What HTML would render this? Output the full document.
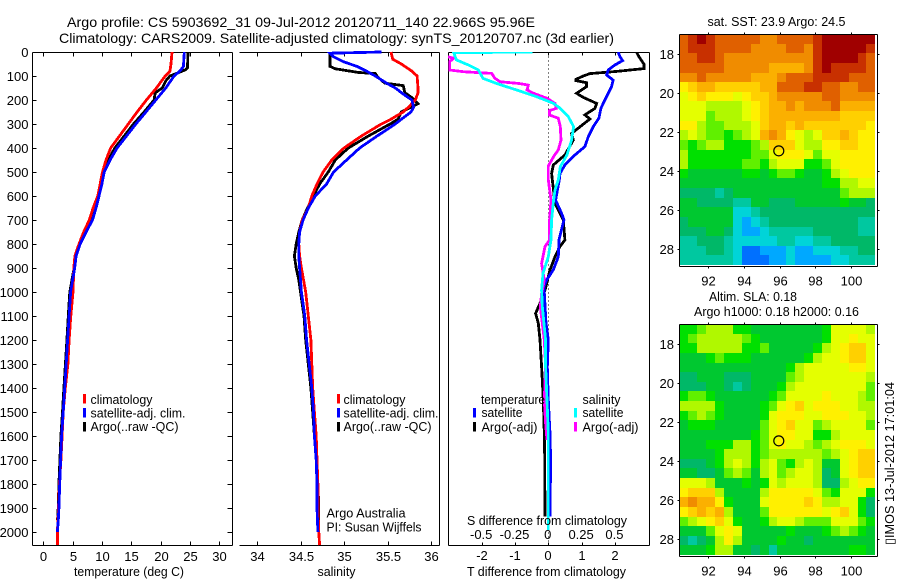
<!DOCTYPE html>
<html>
<head>
<meta charset="utf-8">
<title>Argo profile</title>
<style>
html,body{margin:0;padding:0;background:#fff;}
svg{display:block;}
text{font-family:"Liberation Sans",sans-serif;font-size:13px;fill:#000;}
.title{font-size:14px;}
.m{text-anchor:middle;}
.e{text-anchor:end;}
.ln{fill:none;stroke-width:2.8;shape-rendering:crispEdges;stroke-linejoin:miter;}
.ax{stroke:#000;stroke-width:1;shape-rendering:crispEdges;fill:none;}
</style>
</head>
<body>
<svg id="chart" xmlns="http://www.w3.org/2000/svg" width="900" height="580" viewBox="0 0 900 580">
<defs><clipPath id="diffClip"><rect x="448" y="52" width="201.5" height="494"/></clipPath></defs>
<rect x="0" y="0" width="900" height="580" fill="#fff"/>
<text class="title" x="67" y="27" textLength="468" lengthAdjust="spacingAndGlyphs">Argo profile: CS 5903692_31 09-Jul-2012 20120711_140 22.966S 95.96E</text>
<text class="title" x="59" y="43" textLength="555" lengthAdjust="spacingAndGlyphs">Climatology: CARS2009. Satellite-adjusted climatology: synTS_20120707.nc (3d earlier)</text>
<g id="plots"></g>
<g>
<rect x="83" y="394" width="3" height="9.5" fill="#f00"/>
<rect x="83" y="408" width="3" height="9.5" fill="#00f"/>
<rect x="83" y="422" width="3" height="9.5" fill="#000"/>
<text x="90.5" y="404" textLength="62" lengthAdjust="spacingAndGlyphs">climatology</text>
<text x="90.5" y="417.5" textLength="95" lengthAdjust="spacingAndGlyphs">satellite-adj. clim.</text>
<text x="90.5" y="431" textLength="88" lengthAdjust="spacingAndGlyphs">Argo(..raw -QC)</text>
</g>
<g>
<rect x="337" y="394" width="3" height="9.5" fill="#f00"/>
<rect x="337" y="408" width="3" height="9.5" fill="#00f"/>
<rect x="337" y="422" width="3" height="9.5" fill="#000"/>
<text x="343.5" y="404" textLength="62" lengthAdjust="spacingAndGlyphs">climatology</text>
<text x="343.5" y="417.5" textLength="95" lengthAdjust="spacingAndGlyphs">satellite-adj. clim.</text>
<text x="343.5" y="431" textLength="88" lengthAdjust="spacingAndGlyphs">Argo(..raw -QC)</text>
</g>
<text x="326.5" y="517.5" textLength="79" lengthAdjust="spacingAndGlyphs">Argo Australia</text>
<text x="326.5" y="531.5" textLength="95" lengthAdjust="spacingAndGlyphs">PI: Susan Wijffels</text>
<g>
<text x="481" y="404" textLength="64" lengthAdjust="spacingAndGlyphs">temperature</text>
<rect x="473" y="408" width="3" height="9.5" fill="#00f"/>
<rect x="473" y="422" width="3" height="9.5" fill="#000"/>
<text x="481.5" y="417" textLength="41" lengthAdjust="spacingAndGlyphs">satellite</text>
<text x="481.5" y="431.5" textLength="56" lengthAdjust="spacingAndGlyphs">Argo(-adj)</text>
<text x="582.5" y="404" textLength="38" lengthAdjust="spacingAndGlyphs">salinity</text>
<rect x="574" y="408" width="3" height="9.5" fill="#0ff"/>
<rect x="574" y="422" width="3" height="9.5" fill="#f0f"/>
<text x="582.5" y="417" textLength="41" lengthAdjust="spacingAndGlyphs">satellite</text>
<text x="582.5" y="431.5" textLength="56" lengthAdjust="spacingAndGlyphs">Argo(-adj)</text>
</g>
<text x="74" y="576" textLength="110" lengthAdjust="spacingAndGlyphs">temperature (deg C)</text>
<text x="317.5" y="576" textLength="38" lengthAdjust="spacingAndGlyphs">salinity</text>
<text x="467" y="576" textLength="159" lengthAdjust="spacingAndGlyphs">T difference from climatology</text>
<text x="467" y="525" textLength="160" lengthAdjust="spacingAndGlyphs">S difference from climatology</text>
<text x="707.5" y="26" textLength="138" lengthAdjust="spacingAndGlyphs">sat. SST: 23.9  Argo: 24.5</text>
<text x="709" y="301" textLength="88" lengthAdjust="spacingAndGlyphs">Altim. SLA: 0.18</text>
<text x="694" y="316" textLength="165" lengthAdjust="spacingAndGlyphs">Argo h1000: 0.18 h2000: 0.16</text>
<text transform="translate(894,545) rotate(-90)" textLength="163" lengthAdjust="spacingAndGlyphs">▯IMOS 13-Jul-2012 17:01:04</text>
</svg>
<script>
// ---- Profile data (depth in dbar) ----
const tempTicks = [0,5,10,15,20,25,30];
const salTicks = [34,34.5,35,35.5,36];
const salTickLabels = ["34","34.5","35","35.5","36"];
const depthTicks = [0,100,200,300,400,500,600,700,800,900,1000,1100,1200,1300,1400,1500,1600,1700,1800,1900,2000];
const tDiffTicks = [-2,-1,0,1,2];
const sDiffTicks = [-0.5,-0.25,0,0.25,0.5];
const sDiffTickLabels = ["-0.5","-0.25","0","0.25","0.5"];
const lonTicks = [92,94,96,98,100];
const latTicks = [18,20,22,24,26,28];

const tClimDepth = [0,50,80,100,150,200,250,300,350,400,450,500,600,650,700,750,800,850,900,1000,1100,1200,1300,1400,1500,1600,1700,1800,1900,2000,2055];
const tClimValues = [21.96,21.8,21.6,20.8,19.3,17.6,16,14.5,13,11.5,10.7,10.1,9.3,8.5,7.85,6.9,6.1,5.4,5.2,5.06,4.7,4.4,4.2,3.75,3.4,3.2,3,2.75,2.6,2.4,2.4];
const tSatDepth = [0,60,80,100,150,200,250,300,350,400,450,500,550,600,650,700,750,800,850,900,950,1000,1100,1200,1300,1400,1500,1600,1700,1800,1900,1950,2000];
const tSatValues = [24.06,23.9,23.3,22.3,20.9,19.2,17.5,15.8,14.2,12.6,11.4,10.4,10,9.5,9,8.4,7.3,6.3,5.6,5.35,5,4.66,4.4,4.15,3.9,3.65,3.4,3.13,2.96,2.8,2.67,2.56,2.4];
const tArgoDepth = [0,65,75,100,120,150,170,200,250,300,350,400,450,500,600,700,750,800,850,900,1000,1100,1200,1300,1400,1500,1600,1700,1800,1900,1950];
const tArgoValues = [24.7,24.6,24.2,21.6,20.9,20.3,19.1,18.9,17.2,15.4,13.8,12.2,11.1,10.2,9.4,8.25,7.3,6.3,5.6,5.25,4.53,4.27,4.02,3.77,3.52,3.27,3.0,2.83,2.67,2.54,2.43];

const sClimDepth = [0,30,50,80,100,150,170,200,230,250,282,300,350,400,450,500,550,600,650,700,750,800,850,900,1000,1100,1200,1300,1400,1500,1600,1700,1800,1900,2000,2055];
const sClimValues = [35.54,35.56,35.66,35.78,35.84,35.85,35.85,35.82,35.74,35.68,35.53,35.43,35.2,35,34.86,34.76,34.69,34.63,34.59,34.52,34.49,34.48,34.49,34.51,34.56,34.59,34.62,34.63,34.64,34.66,34.68,34.69,34.7,34.7,34.71,34.72];
const sSatDepth = [0,5,20,40,60,80,100,130,150,175,200,230,250,280,300,350,400,450,500,550,600,650,700,750,800,850,900,1000,1100,1200,1300,1400,1500,1600,1700,1800,1900,2000];
const sSatValues = [35.43,34.84,34.88,34.99,35.15,35.26,35.36,35.49,35.59,35.68,35.78,35.8,35.77,35.66,35.59,35.38,35.18,35.03,34.88,34.8,34.67,34.59,34.53,34.49,34.48,34.48,34.49,34.51,34.55,34.57,34.6,34.63,34.65,34.66,34.68,34.69,34.69,34.7];
const sArgoDepth = [0,60,70,75,85,90,105,130,140,170,190,215,235,250,280,300,350,400,450,500,550,600,650,700,750,800,850,900,950,1000,1100,1200,1300,1400,1500,1600,1700,1800,1900,1950];
const sArgoValues = [34.84,34.84,34.9,34.99,35.16,35.36,35.39,35.47,35.68,35.7,35.78,35.85,35.74,35.66,35.62,35.53,35.28,35.05,34.9,34.82,34.72,34.65,34.58,34.52,34.48,34.45,34.43,34.45,34.48,34.5,34.54,34.56,34.59,34.62,34.64,34.66,34.68,34.7,34.71,34.71];

const dtArgoDepth = [0,19,50,69,81,90,100,114,119,128,144,172,189,214,235,262,279,339,367,429,471,506,631,700,783,811,853,908,992,1047,1089,1130,1200,1311,1450,1547,1630,1936];
const dtArgoValues = [2.65,2.72,2.87,2.87,2.05,1.25,1.05,.83,.83,1.15,1.15,.85,1.05,1.45,1.4,1.1,1.25,.7,.75,.5,.15,.1,.2,.45,.5,.35,.2,.05,-.1,-.25,-.38,-.3,-.25,-.2,-.15,-.13,-.11,-.1];
const dtSatDepth = [0,19,36,54,75,96,117,144,172,214,235,276,311,353,394,429,471,506,533,617,672,700,783,853,908,950,978,1130,1200,1311,1450,1589,1700,1936];
const dtSatValues = [2.1,2.15,2.23,2.0,1.8,1.75,1.95,1.9,1.8,1.65,1.58,1.52,1.35,1.2,1.1,.8,.5,.35,.33,.22,.4,.47,.32,.3,.15,-.05,-.13,-.07,0,-.03,0,.05,.07,.05];
const dsArgoDepth = [0,19,26,40,75,82,89,110,124,131,138,158,172,193,214,235,244,263,276,311,367,408,436,475,533,617,700,783,811,881,950,1006,1061,1200,1311,1450,1547,1616];
const dsArgoValues = [-.8,-.76,-.71,-.74,-.74,-.64,-.425,-.4,-.36,-.225,-.15,-.16,-.11,-.01,.05,.06,.01,.01,.075,.09,.095,.075,.04,0,0,.02,.01,.01,-.025,-.05,-.03,-.05,-.06,-.03,-.02,-.03,-.02,-.01];
const dsSatDepth = [0,3,33,54,75,110,131,158,186,214,235,269,311,367,429,478,533,575,617,700,783,853,922,992,1061,1200,1311,1450,1589,1936,1991];
const dsSatValues = [-.12,-.71,-.69,-.6,-.525,-.49,-.39,-.24,-.09,.04,.09,.15,.19,.175,.14,.09,.075,.05,.04,.025,.02,0,-.04,-.05,-.045,-.02,-.02,-.01,0,0,0];

// ---- Map data: colour-scale levels, rows north to south (0.5 degree cells) ----
const mapLevelColors = ["#0070ff","#00a8ff","#00d4d8","#00c8a0","#00b868","#00c830","#00e000","#60f000","#b0f800","#e4ff00","#fff000","#ffd000","#fbb000","#f08c00","#e06000","#c83000","#a00000"];
const sstLevels = [
[14,15,16,15,14,14,14,14,14,13,13,14,14,14,14,15,16,16,16,16,16,16],
[14,15,15,15,14,14,14,14,13,13,13,13,14,14,13,15,16,16,16,16,16,15],
[14,14,15,15,14,13,13,13,13,13,13,13,13,13,13,15,16,16,16,16,15,14],
[14,14,14,14,14,13,13,13,13,13,12,12,12,12,13,15,16,15,15,15,15,14],
[13,13,14,13,13,13,13,13,12,12,12,13,14,14,14,15,15,15,15,14,14,14],
[10,11,12,12,11,11,11,11,11,12,12,14,14,14,15,15,14,14,13,13,14,14],
[9,10,11,10,10,10,9,10,11,11,12,13,13,13,13,13,14,14,13,13,13,13],
[9,9,9,8,8,8,8,9,10,11,12,12,13,12,13,13,13,14,12,12,12,12],
[9,9,9,7,8,8,8,9,10,11,12,12,12,12,12,12,12,12,11,11,11,11],
[10,10,8,7,7,8,8,8,9,11,12,12,11,12,11,11,11,11,11,11,11,10],
[8,9,8,7,7,6,7,8,9,12,13,12,10,9,8,9,11,11,12,11,10,10],
[7,6,7,8,8,6,6,6,7,8,11,11,11,9,8,8,10,10,11,11,10,10],
[8,6,6,6,6,6,6,6,7,7,9,10,10,10,9,7,9,9,10,10,10,10],
[8,6,6,6,6,6,6,7,7,6,8,9,9,9,6,6,7,9,10,10,10,10],
[6,5,5,5,5,5,5,6,6,5,6,7,7,6,5,5,6,8,9,10,10,10],
[5,5,5,5,5,5,5,5,5,5,5,5,5,5,5,5,6,6,8,8,9,9],
[4,4,4,4,3,4,5,5,5,5,5,5,5,5,5,5,5,5,7,8,8,8],
[5,5,4,4,4,4,3,3,5,5,4,4,4,5,5,5,5,5,6,5,5,4],
[5,5,5,5,5,5,2,2,3,4,4,4,4,4,4,4,4,4,4,4,4,4],
[4,5,5,5,5,5,2,1,2,3,4,4,4,4,4,4,4,4,4,4,3,3],
[4,4,4,5,5,4,2,1,1,2,3,3,3,3,3,4,4,4,4,4,3,3],
[3,3,4,4,4,3,2,2,2,2,2,3,3,2,2,3,3,4,4,4,4,4],
[3,3,3,4,4,3,2,0,0,1,1,1,2,1,1,2,2,2,3,3,4,4],
[3,3,3,3,3,3,2,0,0,0,1,1,2,1,1,1,1,2,2,3,3,3]
];
const slaLevels = [
[6,6,7,8,8,8,6,6,5,5,5,5,5,5,5,5,6,9,9,9,9,8],
[6,7,8,8,8,8,8,7,6,5,5,5,5,5,5,5,6,9,9,10,9,9],
[6,6,8,8,8,8,8,6,6,7,5,5,5,5,5,6,8,9,10,11,11,9],
[5,5,5,6,7,6,6,6,5,5,5,5,5,5,6,8,9,9,10,11,11,9],
[5,5,5,5,5,5,5,5,5,5,5,5,6,8,9,9,9,9,9,10,10,9],
[4,4,5,5,5,4,4,4,5,5,5,5,7,8,9,9,9,9,9,9,9,8],
[4,4,4,5,5,4,3,4,5,5,5,6,8,9,9,9,9,9,9,9,9,7],
[6,7,7,6,5,5,5,5,5,5,6,7,9,9,9,9,10,9,9,9,8,7],
[8,8,8,8,6,5,5,5,5,6,7,9,10,11,9,10,10,10,9,9,8,8],
[6,7,8,7,6,5,5,5,5,6,9,10,10,10,9,9,10,10,10,9,9,8],
[5,6,6,6,5,5,5,5,5,7,9,10,11,9,9,7,8,9,9,9,9,7],
[5,5,5,5,5,5,5,5,6,7,9,10,10,9,9,6,6,8,9,9,9,9],
[5,5,5,6,6,6,8,8,6,7,9,10,9,9,8,7,8,9,10,10,10,9],
[5,5,5,5,6,8,8,8,6,7,8,8,8,8,8,8,7,8,9,10,11,11],
[4,4,4,5,6,8,9,8,6,8,9,7,6,8,9,8,5,5,9,10,11,11],
[5,5,4,4,5,7,8,7,5,8,9,7,8,9,9,8,4,5,9,10,11,11],
[9,9,9,8,5,5,5,6,5,6,9,8,9,9,9,8,4,4,8,9,10,10],
[10,11,11,11,8,5,5,5,5,8,10,10,10,10,10,9,7,6,9,9,9,6],
[12,13,12,12,10,6,5,5,5,9,10,10,10,10,11,10,8,8,9,9,6,4],
[10,11,12,11,12,8,5,5,5,7,10,10,10,10,10,10,9,10,11,9,6,4],
[7,8,9,10,11,9,6,5,5,6,8,9,9,8,7,7,7,9,9,9,7,6],
[5,5,5,7,9,10,9,5,5,5,5,5,6,5,5,5,6,7,8,7,6,5],
[4,3,4,5,8,10,8,5,5,5,5,6,5,5,4,5,5,5,5,5,5,5],
[5,5,5,6,8,8,5,5,4,5,3,5,5,5,5,5,5,5,5,6,6,5]
];
const profileLon = [95.96];
const profileLat = [22.966];

// ---- Axis functions ----
const SVGNS = "http://www.w3.org/2000/svg";
const root = document.getElementById("plots");
const yDepth = d => 52 + d * 0.24;
const xTemp = t => 43.3 + t * 5.86;
const xSal = s => 257 + (s - 34) * 87;
const xDT = t => 548.3 + t * 33.3;
const xDS = s => 548.3 + s * 133.2;
const xLon = lon => 708.3 + (lon - 92) * 17.8;
const yLat1 = lat => 54.3 + (lat - 18) * 19.44;
const yLat2 = lat => 344.3 + (lat - 18) * 19.44;

function mk(tag, attrs, parent, txt) {
  const el = document.createElementNS(SVGNS, tag);
  for (const k in attrs) el.setAttribute(k, attrs[k]);
  if (txt !== undefined) el.textContent = txt;
  (parent || root).appendChild(el);
  return el;
}
function axisLine(x1, y1, x2, y2, parent, name) {
  const el = mk("line", {x1: x1, y1: y1, x2: x2, y2: y2, class: "ax"}, parent);
  
  
}
function tickLabel(x, y, str, cls, name) {
  const el = mk("text", {x: x, y: y, class: cls}, root, str);
  
  
}
function profileLine(xf, depths, values, color, name, parent) {
  const pts = depths.map((d, i) => xf(values[i]).toFixed(1) + "," + yDepth(d).toFixed(1)).join(" ");
  const el = mk("polyline", {points: pts, class: "ln", stroke: color}, parent);
  
  
}

// ---- Panel frames ----
const L1 = 32.5, R1 = 232.5, L2 = 239.5, R2 = 439.5, L3 = 448.5, R3 = 649.5, T = 52.5, B = 545.5;
axisLine(L1, T, R1, T, root, "temperature-panel-top");
axisLine(L1, B, R1, B, root, "temperature-panel-bottom");
axisLine(L1, T, L1, B, root, "temperature-panel-left");
axisLine(R1, T, R1, B, root, "temperature-panel-right");
axisLine(L2, T, R2, T, root, "salinity-panel-top");
axisLine(L2, B, R2, B, root, "salinity-panel-bottom");
axisLine(R2, T, R2, B, root, "salinity-panel-right");
axisLine(L3, T, R3, T, root, "difference-panel-top");
axisLine(L3, B, R3, B, root, "difference-panel-bottom");
axisLine(L3, T, L3, B, root, "difference-panel-left");
axisLine(R3, T, R3, B, root, "difference-panel-right");

depthTicks.forEach(d => {
  const y = Math.round(yDepth(d)) + 0.5;
  axisLine(L1, y, L1 + 4, y, root, "depth-tick-left");
  axisLine(R1 - 5, y, R1, y, root, "depth-tick-right");
  tickLabel(28.5, y + 4.5, String(d), "e", "depth-tick-label");
});
tempTicks.forEach(t => {
  const x = Math.round(xTemp(t)) + 0.5;
  axisLine(x, T, x, T + 4, root, "temperature-tick-top");
  axisLine(x, B - 4, x, B, root, "temperature-tick-bottom");
  tickLabel(x, 561, String(t), "m", "temperature-tick-label");
});
salTicks.forEach((s, i) => {
  const x = Math.round(xSal(s)) + 0.5;
  axisLine(x, T, x, T + 4, root, "salinity-tick-top");
  axisLine(x, B - 4, x, B, root, "salinity-tick-bottom");
  tickLabel(x, 561, salTickLabels[i], "m", "salinity-tick-label");
});
tDiffTicks.forEach(t => {
  const x = Math.round(xDT(t)) + 0.5;
  axisLine(x, T, x, T + 3, root, "t-difference-tick-top");
  axisLine(x, B - 3, x, B, root, "t-difference-tick-bottom");
  tickLabel(x - 0.5, 560, String(t), "m", "t-difference-tick-label");
});
sDiffTicks.forEach((s, i) => {
  const x = xDS(s);
  tickLabel(x - 0.5, 539, sDiffTickLabels[i], "m", "s-difference-tick-label");
});

// ---- Profile series ----
profileLine(xTemp, tArgoDepth, tArgoValues, "#000", "temperature-argo-line");
profileLine(xTemp, tClimDepth, tClimValues, "#f00", "temperature-climatology-line");
profileLine(xTemp, tSatDepth, tSatValues, "#00f", "temperature-satellite-line");
profileLine(xSal, sArgoDepth, sArgoValues, "#000", "salinity-argo-line");
profileLine(xSal, sClimDepth, sClimValues, "#f00", "salinity-climatology-line");
profileLine(xSal, sSatDepth, sSatValues, "#00f", "salinity-satellite-line");

// ---- Difference panel ----
const diffGroup = mk("g", {"clip-path": "url(#diffClip)"});


const zeroLine = mk("line", {x1: xDT(0), y1: T, x2: xDT(0), y2: B, stroke: "#000", "stroke-width": 1, "stroke-dasharray": "1 3", "shape-rendering": "crispEdges"}, diffGroup);


profileLine(xDT, dtArgoDepth, dtArgoValues, "#000", "t-difference-argo-line", diffGroup);
profileLine(xDT, dtSatDepth, dtSatValues, "#00f", "t-difference-satellite-line", diffGroup);
profileLine(xDS, dsArgoDepth, dsArgoValues, "#f0f", "s-difference-argo-line", diffGroup);
profileLine(xDS, dsSatDepth, dsSatValues, "#0ff", "s-difference-satellite-line", diffGroup);

// ---- Maps ----
function drawMap(levels, top, yLat, name) {
  const g = mk("g", {"shape-rendering": "crispEdges"});
  
  
  const left = 679.5, cw = 195.8 / levels[0].length, ch = 231 / levels.length;
  levels.forEach((row, r) => row.forEach((v, c) => {
    const x0 = Math.round(left + c * cw), x1 = Math.round(left + (c + 1) * cw);
    const y0 = Math.round(top + r * ch), y1 = Math.round(top + (r + 1) * ch);
    const cell = mk("rect", {x: x0, y: y0, width: x1 - x0, height: y1 - y0, fill: mapLevelColors[v]}, g);
    
    
  }));
  const ml = 679.5, mr = 877.5, mt = top + 0.5, mb = top + 232.5;
  axisLine(ml, mt, mr, mt, root, name + "-frame-top");
  axisLine(ml, mb, mr, mb, root, name + "-frame-bottom");
  axisLine(ml, mt, ml, mb, root, name + "-frame-left");
  axisLine(mr, mt, mr, mb, root, name + "-frame-right");
  lonTicks.forEach(lon => {
    const x = Math.round(xLon(lon)) + 0.5;
    axisLine(x, mt - 2, x, mt, root, name + "-lon-tick-top");
    axisLine(x, mb, x, mb + 2, root, name + "-lon-tick-bottom");
    tickLabel(x, mb + 19, String(lon), "m", name + "-lon-label");
  });
  latTicks.forEach(lat => {
    const y = Math.round(yLat(lat)) + 0.5;
    axisLine(ml - 2, y, ml, y, root, name + "-lat-tick-left");
    axisLine(mr, y, mr + 2, y, root, name + "-lat-tick-right");
    tickLabel(674, y + 4.5, String(lat), "e", name + "-lat-label");
  });
  const marker = mk("circle", {cx: xLon(profileLon[0]), cy: yLat(profileLat[0]), r: 5, fill: "none", stroke: "#000", "stroke-width": 1.2});
  
  
}
drawMap(sstLevels, 34, yLat1, "sst-map");
drawMap(slaLevels, 324, yLat2, "sla-map");
</script>
</body>
</html>
